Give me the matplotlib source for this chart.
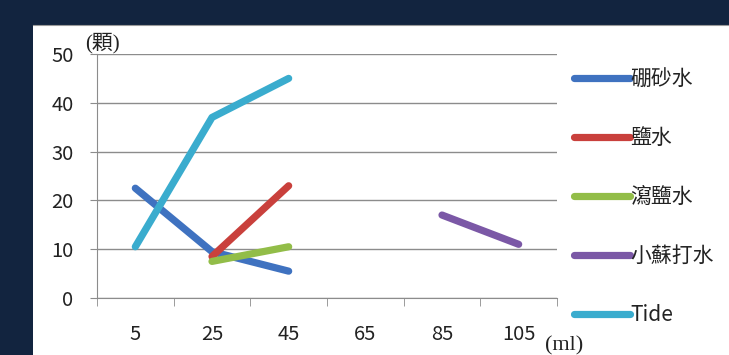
import matplotlib
matplotlib.use("Agg")
import matplotlib.pyplot as plt
import numpy as np

plt.rcParams['font.family'] = ['Noto Sans CJK TC', 'DejaVu Sans']

volumes = ["5", "25", "45", "65", "85", "105"]
borax = [22.5, 9.5, 5.5, None, None, None]
salt = [None, 8.5, 23, None, None, None]
epsom = [None, 7.5, 10.5, None, None, None]
soda = [None, None, None, None, 17, 11]
tide = [10.5, 37, 45, None, None, None]

series = [
    ("硼砂水", borax, "#3f72c0"),
    ("鹽水", salt, "#c9403c"),
    ("瀉鹽水", epsom, "#92bd48"),
    ("小蘇打水", soda, "#7b58a6"),
    ("Tide", tide, "#3aacce"),
]

W, H = 729, 355
fig = plt.figure(figsize=(W / 100, H / 100), dpi=100, facecolor="#12243f")

# white panel
panel = fig.add_axes([33 / W, 0, 1 - 33 / W, 1 - 25 / H])
panel.set_facecolor("white")
panel.set_xticks([])
panel.set_yticks([])
for s in panel.spines.values():
    s.set_visible(False)
panel.spines['top'].set_visible(True)
panel.spines['top'].set_color("#9a9a9a")

left, right, bottom, top = 97, 557, 298, 54
ax = fig.add_axes([left / W, (H - bottom) / H, (right - left) / W, (bottom - top) / H])
ax.set_facecolor("none")

x = np.arange(len(volumes))
for name, vals, color in series:
    y = np.array([np.nan if v is None else v for v in vals], dtype=float)
    ax.plot(x, y, color=color, lw=5.2, solid_capstyle="round", label=name)

ax.set_xlim(-0.5, len(volumes) - 0.5)
ax.set_ylim(0, 50)
ax.set_yticks(np.arange(0, 51, 10))
ax.yaxis.grid(True, color="#8c8c8c", lw=1.0)
ax.set_axisbelow(True)
ax.set_xticks(x)
ax.set_xticklabels(volumes)
ax.set_xticks(np.arange(-0.5, len(volumes), 1.0), minor=True)
ax.tick_params(axis="x", which="major", length=0, pad=19, labelsize=14.5, labelcolor="#222222")
ax.tick_params(axis="x", which="minor", length=6, color="#8c8c8c", direction="out")
ax.tick_params(axis="y", length=5, color="#8c8c8c", pad=12, labelsize=14.5, labelcolor="#222222")

for s in ["top", "right"]:
    ax.spines[s].set_visible(False)
ax.spines["left"].set_color("#8c8c8c")
ax.spines["bottom"].set_color("#8c8c8c")

fig.text(85 / W, (H - 43) / H, "(顆)", family=["Liberation Serif", "Noto Sans CJK TC"],
         fontsize=15, va="center", ha="left", color="#222222")
fig.text(545 / W, (H - 346) / H, "(ml)", family=["Liberation Serif"],
         fontsize=16, va="center", ha="left", color="#222222")

leg = fig.legend(loc="upper left", bbox_to_anchor=(566 / W, 1 - 60 / H),
                 frameon=False, fontsize=15, handlelength=2.65, handletextpad=0.05,
                 labelspacing=1.77, borderaxespad=0)
for t in leg.get_texts():
    t.set_color("#222222")

fig.savefig("out.png", dpi=100, facecolor=fig.get_facecolor())
